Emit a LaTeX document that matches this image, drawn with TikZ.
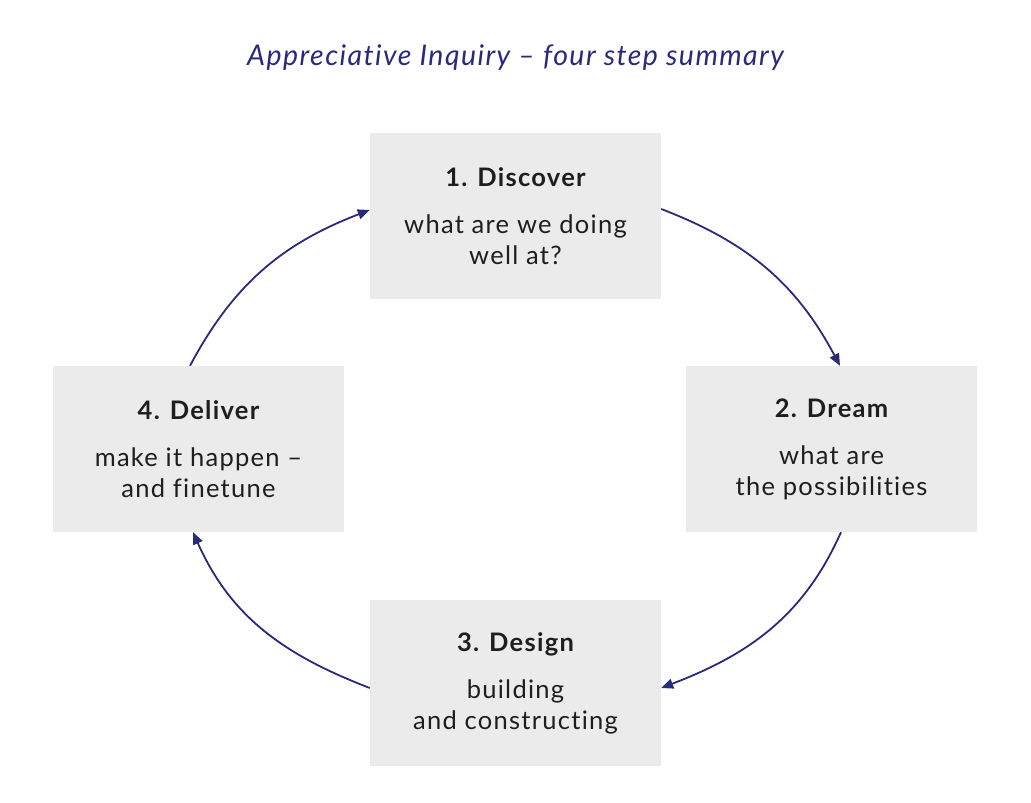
\documentclass[tikz,border=0pt]{standalone}
\usepackage{fontspec}
\setmainfont{Lato}[Ligatures=NoCommon, LetterSpace=5]
\usetikzlibrary{arrows.meta}
\definecolor{navy}{HTML}{2A2A7C}
\definecolor{boxgray}{HTML}{EBEBEB}
\definecolor{txt}{HTML}{1E1E1E}
\tikzset{
  stepbox/.style={fill=boxgray, draw=none, minimum width=291pt, minimum height=166pt,
    inner sep=0pt, align=center, text=txt, font=\fontsize{25.5}{31}\selectfont},
  cyc/.style={draw=navy, line width=1.8pt, -{Triangle[length=12pt,width=10pt]}, looseness=1},
}
\newcommand{\head}[1]{{\bfseries #1}\\[16pt]}
\begin{document}
\begin{tikzpicture}[x=1pt,y=1pt]
\useasboundingbox (0,0) rectangle (1031,803);
\node[text=navy, font=\fontsize{28.5}{32}\itshape] (title) at (515.5,745) {Appreciative Inquiry – four step summary};
\node[stepbox] (b1) at (515.5,587) {\head{1. Discover}what are we doing\\well at?};
\node[stepbox] (b2) at (831.5,354) {\head{2. Dream}what are\\the possibilities};
\node[stepbox] (b3) at (515.5,120) {\head{3. Design}building\\and constructing};
\node[stepbox] (b4) at (198.5,354) {\head{4. Deliver}make it happen –\\and finetune};
\draw[cyc] ([yshift=7pt]b1.east) to[out=-21,in=118] ([xshift=8.5pt]b2.north);
\draw[cyc] ([xshift=9.5pt]b2.south) to[out=-114,in=21] ([yshift=-5pt]b3.east);
\draw[cyc] ([yshift=-5pt]b3.west) to[out=159,in=-66] ([xshift=-5.5pt]b4.south);
\draw[cyc] ([xshift=-8.5pt]b4.north) to[out=62,in=-159] ([yshift=6pt]b1.west);
\end{tikzpicture}
\end{document}
